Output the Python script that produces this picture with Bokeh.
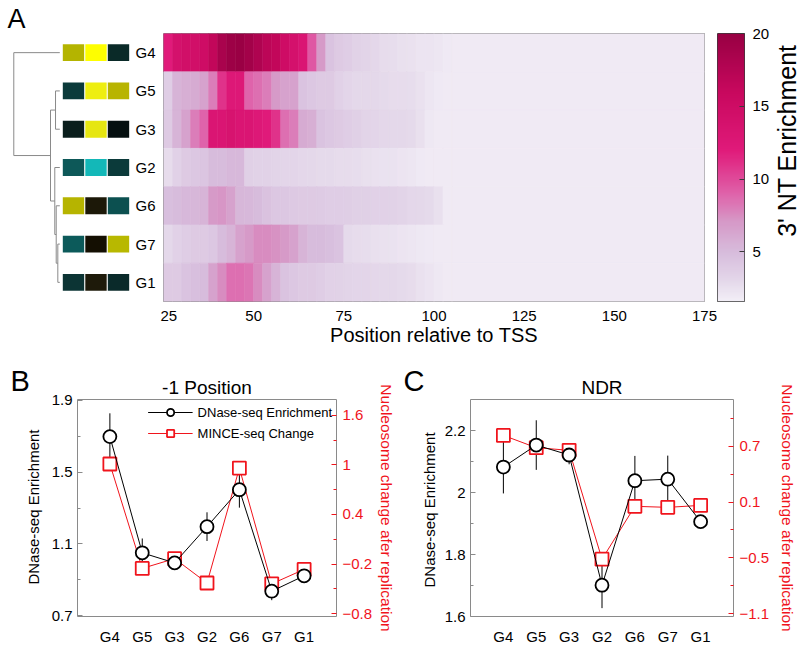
import numpy as np
from bokeh.plotting import figure
from bokeh.models import (Range1d, FactorRange, LinearColorMapper, LinearAxis,
                          FixedTicker, Label, Legend, LegendItem, ColumnDataSource)
from bokeh.layouts import row, column
from bokeh.transform import transform
from bokeh.core.properties import value
from bokeh.embed import file_html
from bokeh.resources import INLINE

FONT = "Liberation Sans"

# ---------------- data ----------------
groups = ["G4", "G5", "G3", "G2", "G6", "G7", "G1"]

# heatmap bins (position relative to TSS)
bin_edges = [25, 27.5, 30, 32.5, 35, 37.5, 40, 42.5, 45, 47.5, 50, 52.5, 55, 57.5,
             60, 62.5, 65, 67.5, 70, 72.5, 75, 77.5, 80, 82.5, 85, 87.5, 90, 92.5,
             95, 97.5, 100, 102.5, 105, 175]
heat_G4 = [12, 14, 14.5, 14.5, 15, 16.5, 18.5, 19.5, 19.8, 19, 18, 17, 16.5, 15, 14,
           13, 9.5, 7, 4.5, 4, 3.8, 3.4, 3.3, 3.1, 2.8, 2.7, 2.6, 2.5, 2.3, 2.3, 2.2, 2.0, 1.9]
heat_G5 = [3.8, 5.5, 5.8, 6, 6.5, 8, 11, 12.5, 12.5, 9, 8.5, 8, 7, 6.5, 6.5,
           4.5, 4.2, 4, 4, 3.5, 3.2, 3, 3, 3, 2.9, 2.8, 2.8, 2.7, 2.5, 2.2, 2.0, 1.9, 1.9]
heat_G3 = [4, 5.5, 6.5, 8, 9, 13, 13, 13.5, 13, 13, 12.5, 12, 11, 8.5, 8,
           6, 5.8, 4.5, 4.2, 4, 3.8, 3.6, 3.3, 3.2, 3.1, 3, 3, 2.9, 2.6, 2.1, 1.9, 1.9, 1.9]
heat_G2 = [2.8, 3.5, 4, 4.2, 4.4, 5, 5, 5.2, 5.2, 3.6, 3.4, 3.4, 3.3, 3.2, 3.2,
           3.1, 3, 2.9, 2.9, 2.8, 2.8, 2.7, 2.6, 2.5, 2.4, 2.4, 2.3, 2.2, 2.0, 1.9, 1.9, 1.9, 1.9]
heat_G6 = [4.8, 5, 5.2, 5.3, 5.5, 7, 7.2, 6.5, 5.3, 5.2, 5, 4.6, 4.2, 4.2, 4.1,
           4, 4, 3.9, 3.8, 3.8, 3.7, 3.6, 3.6, 3.5, 3.5, 3.4, 3.3, 3.1, 3.0, 2.9, 2.6, 1.9, 1.9]
heat_G7 = [3, 3.5, 3.8, 4, 4, 4.2, 5, 5.5, 6.5, 7, 7.5, 7.5, 7.3, 7, 6.5,
           5.5, 5, 5, 4.8, 4.5, 2.9, 2.8, 2.7, 2.6, 2.5, 2.4, 2.3, 2.2, 2.1, 2.0, 1.9, 1.9, 1.9]
heat_G1 = [4, 4, 4.5, 4.8, 5, 6.5, 7.5, 8.5, 8.5, 8.3, 7.5, 6.5, 5.5, 4.5, 4.2,
           4, 4, 3.8, 3.5, 3.4, 3.3, 3.2, 3.2, 3.1, 3, 3, 2.9, 2.8, 2.5, 2.3, 2.1, 1.9, 1.9]
heat_rows = {"G4": heat_G4, "G5": heat_G5, "G3": heat_G3, "G2": heat_G2,
             "G6": heat_G6, "G7": heat_G7, "G1": heat_G1}
heat_xticks = [25, 50, 75, 100, 125, 150, 175]

cmap_low, cmap_high = 1.6, 20
cbar_ticks = [5, 10, 15, 20]
cmap_anchor_vals = [1.6, 3, 5, 7, 9, 12, 16, 20]
cmap_anchor_cols = ["#f3eff7", "#e4d8ea", "#d7bcdc", "#d69ac8", "#df62aa",
                    "#e01a7a", "#c8085e", "#980043"]

# dendrogram merges: (child a, child b, linkage height); merge k is named "m{k}"
dendro_merges = [("G7", "G1", 0.043), ("G6", "m0", 0.078), ("G2", "m1", 0.109),
                 ("G5", "G3", 0.093), ("m3", "m2", 0.202), ("G4", "m4", 1.0)]

# colour key squares (3 features per group)
feature_cols = [1, 2, 3]
square_colors = {
    "G4": ["#b4b400", "#fefe00", "#0a2a28"],
    "G5": ["#0b3a3a", "#eeee10", "#b8b400"],
    "G3": ["#0a1e1c", "#e6e612", "#050f10"],
    "G2": ["#0d5858", "#13b8b8", "#0b3a3a"],
    "G6": ["#b6b400", "#1c1808", "#0c5050"],
    "G7": ["#0c5a5a", "#140f02", "#b8b800"],
    "G1": ["#0c3434", "#1e1a0a", "#0a2a2a"],
}

# panel B (-1 position)
dnase_B = [1.698, 1.05, 0.994, 1.196, 1.402, 0.836, 0.922]
dnase_B_err = [0.13, 0.08, 0.02, 0.08, 0.10, 0.05, 0.02]
mince_B = [1.01, -0.253, -0.135, -0.43, 0.96, -0.44, -0.265]
B_left_ticks = [0.7, 1.1, 1.5, 1.9]
B_left_labels = ["0.7", "1.1", "1.5", "1.9"]
B_left_minor = [0.9, 1.3, 1.7]
B_right_ticks = [-0.8, -0.2, 0.4, 1.0, 1.6]
B_right_labels = ["\u22120.8", "\u22120.2", "0.4", "1", "1.6"]
B_right_minor = [-0.5, 0.1, 0.7, 1.3]

# panel C (NDR)
dnase_C = [2.082, 2.153, 2.121, 1.701, 2.038, 2.043, 1.906]
dnase_C_err = [0.085, 0.08, 0.03, 0.074, 0.08, 0.076, 0.01]
mince_C = [0.815, 0.683, 0.655, -0.513, 0.054, 0.043, 0.064]
C_left_ticks = [1.6, 1.8, 2.0, 2.2]
C_left_labels = ["1.6", "1.8", "2", "2.2"]
C_left_minor = [1.7, 1.9, 2.1]
C_right_ticks = [-1.1, -0.5, 0.1, 0.7]
C_right_labels = ["\u22121.1", "\u22120.5", "0.1", "0.7"]
C_right_minor = [-0.8, -0.2, 0.4, 1.0]

RED = "#f0141c"
GRAY = "#8a8a8a"
LEFT_LABEL = "DNase-seq Enrichment"
RIGHT_LABEL = "Nucleosome change afer replication"

# ---------------- colour mapper ----------------
_grid = np.linspace(cmap_low, cmap_high, 256)
_rgb = [tuple(int(c[k:k + 2], 16) for k in (1, 3, 5)) for c in cmap_anchor_cols]
_ch = [np.interp(_grid, cmap_anchor_vals, [c[j] for c in _rgb]) for j in range(3)]
palette = ["#%02x%02x%02x" % (int(round(r)), int(round(g)), int(round(b)))
           for r, g, b in zip(*_ch)]
mapper = LinearColorMapper(palette=palette, low=cmap_low, high=cmap_high)

TOP_H, TOP_BT, TOP_BB = 348, 33, 45        # top row: height, top/bottom borders
BOT_H, BOT_BT, BOT_BB = 299, 51, 26        # bottom row


def style_title(t, size, align, offset, standoff):
    t.text_font = FONT
    t.text_font_size = size
    t.text_font_style = "normal"
    t.text_color = "black"
    t.align = align
    t.offset = offset
    t.standoff = standoff


def text_panel(width, height, bt, bb, items, title=None, toff=0, tstand=6):
    """Blank helper figure: texts placed in page-like pixel coordinates."""
    fh = height - bt - bb
    f = figure(width=width, height=height, x_range=Range1d(0, width),
               y_range=Range1d(0, fh), min_border_left=0, min_border_right=0,
               min_border_top=bt, min_border_bottom=bb,
               output_backend="svg", toolbar_location=None)
    if title:
        f.title.text = title
        style_title(f.title, "29px", "left", toff, tstand)
    f.axis.visible = False
    f.grid.visible = False
    f.outline_line_color = None
    for (x, ytop, text, size, color, angle, align, baseline) in items:
        f.add_layout(Label(x=x, y=height - bb - ytop, text=text, text_font=FONT,
                           text_font_size=size, text_color=color, angle=angle,
                           text_align=align, text_baseline=baseline))
    return f


# ---------------- colour squares + dendrogram (+ letter A) ----------------
sq = figure(width=160, height=TOP_H, x_range=Range1d(-2.244, 4.867),
            y_range=Range1d(0, 7), min_border_left=0, min_border_right=0,
            min_border_top=TOP_BT, min_border_bottom=TOP_BB,
            output_backend="svg", toolbar_location=None)
sq.title.text = "A"
style_title(sq.title, "27px", "left", 7, 0)
sq.extra_x_ranges = {"dend": Range1d(1.289, -2.189)}
row_y = {g: len(groups) - 1 - i + 0.5 for i, g in enumerate(groups)}
sx, sy, sc = [], [], []
for g in groups:
    for fcol, col in zip(feature_cols, square_colors[g]):
        sx.append(fcol); sy.append(row_y[g]); sc.append(col)
sq.rect(x=sx, y=sy, width=0.95, height=0.44, fill_color=sc, line_color=None)
sq.text(x=[3.756] * len(groups), y=[row_y[g] for g in groups], text=groups,
        text_font=value(FONT), text_font_size="15px", text_align="left",
        text_baseline="middle", text_color="black")

node_y = dict(row_y)
node_h = {g: 0.0 for g in groups}
x0s, y0s, x1s, y1s = [], [], [], []
for k, (a, b, h) in enumerate(dendro_merges):
    for c in (a, b):
        x0s.append(node_h[c]); y0s.append(node_y[c]); x1s.append(h); y1s.append(node_y[c])
    x0s.append(h); y0s.append(node_y[a]); x1s.append(h); y1s.append(node_y[b])
    node_y["m%d" % k] = (node_y[a] + node_y[b]) / 2
    node_h["m%d" % k] = h
sq.segment(x0=x0s, y0=y0s, x1=x1s, y1=y1s, line_color=GRAY, line_width=1,
           x_range_name="dend")
sq.axis.visible = False
sq.grid.visible = False
sq.outline_line_color = None

# ---------------- heatmap ----------------
hx, hw, hy, hv = [], [], [], []
for g in groups:
    for i, v in enumerate(heat_rows[g]):
        l, r = bin_edges[i], bin_edges[i + 1]
        hx.append((l + r) / 2); hw.append(r - l); hy.append(g); hv.append(v)
hsrc = ColumnDataSource(dict(x=hx, w=hw, y=hy, v=hv))
hm = figure(width=557, height=TOP_H, x_range=Range1d(25, 175),
            y_range=FactorRange(factors=groups[::-1]),
            min_border_left=3, min_border_right=13, min_border_top=TOP_BT,
            min_border_bottom=TOP_BB, output_backend="svg", toolbar_location=None)
hm.rect(x="x", y="y", width="w", height=1, source=hsrc,
        fill_color=transform("v", mapper), line_color=transform("v", mapper),
        line_width=0.6)
hm.yaxis.visible = False
hm.grid.visible = False
hm.outline_line_color = GRAY
hm.xaxis.ticker = FixedTicker(ticks=heat_xticks)
hm.xaxis.axis_line_color = None
hm.xaxis.major_tick_line_color = None
hm.xaxis.minor_tick_line_color = None
hm.xaxis.major_label_standoff = 3
hm.xaxis.major_label_text_font = FONT
hm.xaxis.major_label_text_font_size = "15px"
hm.xaxis.major_label_text_color = "black"
hm.xaxis.axis_label = "Position relative to TSS"
hm.xaxis.axis_label_standoff = 0
hm.xaxis.axis_label_text_font = FONT
hm.xaxis.axis_label_text_font_size = "20px"
hm.xaxis.axis_label_text_font_style = "normal"
hm.xaxis.axis_label_text_color = "black"

# ---------------- colour bar ----------------
cb = figure(width=55, height=TOP_H, x_range=Range1d(0, 1),
            y_range=Range1d(cmap_low, cmap_high), y_axis_location="right",
            min_border_left=0, min_border_right=28, min_border_top=TOP_BT,
            min_border_bottom=TOP_BB, output_backend="svg", toolbar_location=None)
grad = np.linspace(cmap_low, cmap_high, 256).reshape(256, 1)
cb.image(image=[grad], x=0, y=cmap_low, dw=1, dh=cmap_high - cmap_low,
         color_mapper=mapper)
cb.xaxis.visible = False
cb.grid.visible = False
cb.outline_line_color = "#3a3a3a"
cb.yaxis.ticker = FixedTicker(ticks=cbar_ticks)
cb.yaxis.axis_line_color = None
cb.yaxis.major_tick_in = 5
cb.yaxis.major_tick_out = 0
cb.yaxis.major_tick_line_color = "#3a3a3a"
cb.yaxis.minor_tick_line_color = None
cb.yaxis.major_label_standoff = 8
cb.yaxis.major_label_text_font = FONT
cb.yaxis.major_label_text_font_size = "15px"
cb.yaxis.major_label_text_color = "black"

cbl = text_panel(28, TOP_H, TOP_BT, TOP_BB,
                 [(14, 141, "3' NT Enrichment", "25px", "black", np.pi / 2, "center", "middle")])


# ---------------- panels B and C ----------------
def line_panel(dnase, err, mince, yl, yr, lt, ll, lm, rt, rl, rm, title,
               width, border_l, border_r, rlabel_standoff, legend):
    p = figure(width=width, height=BOT_H,
               x_range=FactorRange(factors=groups, range_padding=0.5,
                                   range_padding_units="absolute"),
               y_range=Range1d(*yl), min_border_left=border_l, min_border_right=border_r,
               min_border_top=BOT_BT, min_border_bottom=BOT_BB,
               output_backend="svg", toolbar_location=None)
    p.title.text = title
    style_title(p.title, "19px", "center", 0, 4)
    p.extra_y_ranges = {"r": Range1d(*yr)}
    p.grid.visible = False
    p.outline_line_color = GRAY
    p.xaxis.axis_line_color = None
    p.xaxis.major_tick_line_color = None
    p.xaxis.major_label_standoff = 5
    p.xaxis.major_label_text_font = FONT
    p.xaxis.major_label_text_font_size = "15px"
    p.xaxis.major_label_text_color = "black"
    ya = p.yaxis[0]
    ya.ticker = FixedTicker(ticks=lt, minor_ticks=lm)
    ya.major_label_overrides = {t: s for t, s in zip(lt, ll)}
    ya.axis_line_color = None
    ya.major_tick_in, ya.major_tick_out = 5, 0
    ya.minor_tick_in, ya.minor_tick_out = 3, 0
    ya.major_tick_line_color = GRAY
    ya.minor_tick_line_color = GRAY
    ya.major_label_standoff = 5
    ya.major_label_text_font = FONT
    ya.major_label_text_font_size = "15px"
    ya.major_label_text_color = "black"
    ra = LinearAxis(y_range_name="r", ticker=FixedTicker(ticks=rt, minor_ticks=rm),
                    major_label_overrides={t: s for t, s in zip(rt, rl)})
    ra.axis_line_color = None
    ra.major_tick_in, ra.major_tick_out = 5, 0
    ra.minor_tick_in, ra.minor_tick_out = 3, 0
    ra.major_tick_line_color = RED
    ra.minor_tick_line_color = RED
    ra.major_label_standoff = 6
    ra.major_label_text_font = FONT
    ra.major_label_text_font_size = "15px"
    ra.major_label_text_color = RED
    ra.axis_label = RIGHT_LABEL
    ra.axis_label_standoff = rlabel_standoff
    ra.axis_label_text_font = FONT
    ra.axis_label_text_font_size = "15.5px"
    ra.axis_label_text_font_style = "normal"
    ra.axis_label_text_color = RED
    p.add_layout(ra, "right")
    lo = [v - e for v, e in zip(dnase, err)]
    hi = [v + e for v, e in zip(dnase, err)]
    p.segment(x0=groups, y0=lo, x1=groups, y1=hi, line_color="black", line_width=1)
    rl_line = p.line(groups, mince, line_color=RED, line_width=1, y_range_name="r")
    rl_mk = p.scatter(groups, mince, marker="square", size=13, fill_color="white",
                      line_color=RED, line_width=1.8, y_range_name="r")
    bl_line = p.line(groups, dnase, line_color="black", line_width=1)
    bl_mk = p.scatter(groups, dnase, marker="circle", size=13, fill_color="white",
                      line_color="black", line_width=1.8)
    if legend:
        lg = Legend(items=[LegendItem(label="DNase-seq Enrichment", renderers=[bl_line, bl_mk]),
                           LegendItem(label="MINCE-seq Change", renderers=[rl_line, rl_mk])],
                    location="top_right", margin=4, padding=3, spacing=3,
                    glyph_width=45, glyph_height=18, label_standoff=5,
                    label_text_font=FONT, label_text_font_size="13px",
                    label_text_color="black", border_line_color=None,
                    background_fill_alpha=0)
        p.add_layout(lg)
    return p


pb = line_panel(dnase_B, dnase_B_err, mince_B, (0.695, 1.905), (-0.835, 1.79),
                B_left_ticks, B_left_labels, B_left_minor,
                B_right_ticks, B_right_labels, B_right_minor,
                "-1 Position", 353, 32, 60, 3, True)
pc = line_panel(dnase_C, dnase_C_err, mince_C, (1.6, 2.3), (-1.128, 1.2),
                C_left_ticks, C_left_labels, C_left_minor,
                C_right_ticks, C_right_labels, C_right_minor,
                "NDR", 359, 27, 67, 7, False)

tL = text_panel(45, BOT_H, BOT_BT, BOT_BB,
                [(33, 161, LEFT_LABEL, "15px", "black", np.pi / 2, "center", "middle")],
                title="B", toff=10, tstand=6)
tM = text_panel(43, BOT_H, BOT_BT, BOT_BB,
                [(31, 164, LEFT_LABEL, "15px", "black", np.pi / 2, "center", "middle")],
                title="C", toff=5, tstand=6)

layout = column(row(sq, hm, cb, cbl), row(tL, pb, tM, pc))
open("out.html", "w").write(file_html(layout, INLINE))
